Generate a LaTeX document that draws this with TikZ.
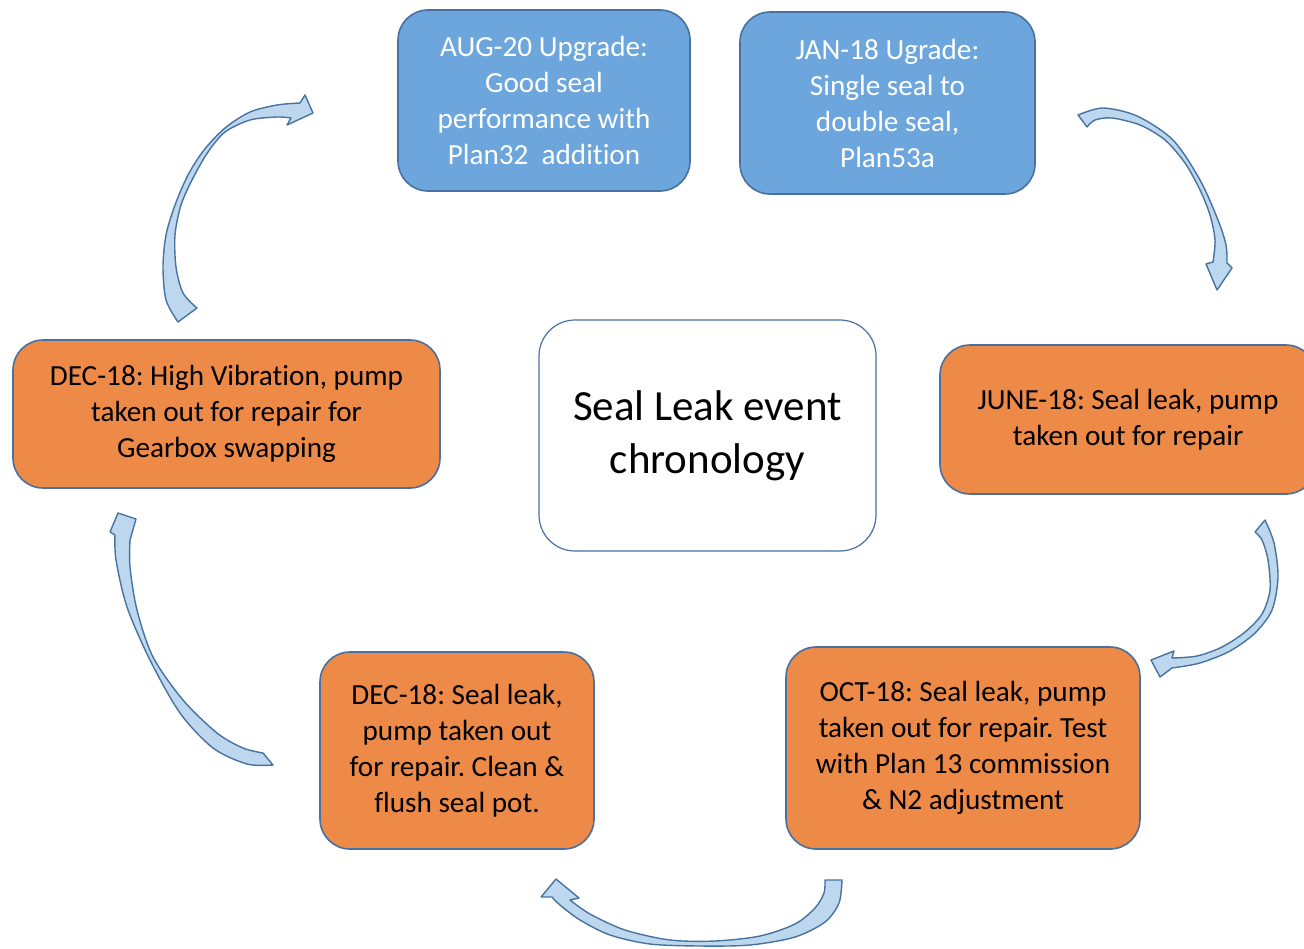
\documentclass[tikz,border=0pt]{standalone}
\usepackage{fontspec}
\setmainfont[Ligatures=NoCommon]{Carlito}
\frenchspacing

\definecolor{upgblue}{RGB}{108,166,220}
\definecolor{evtorange}{RGB}{238,138,72}
\definecolor{boxedge}{RGB}{72,112,160}
\definecolor{arrowfill}{RGB}{189,215,238}
\definecolor{arrowedge}{RGB}{70,115,160}

\tikzset{
  evtbox/.style={draw=boxedge, line width=0.8pt, rounded corners=15pt, align=center, inner sep=2pt,
    font=\fontsize{14.6}{18}\selectfont},
  upgbox/.style={evtbox, fill=upgblue, text=white},
  leakbox/.style={evtbox, fill=evtorange, text=black},
  bendarrow/.style={fill=arrowfill, draw=arrowedge, line width=0.7pt, line join=round},
}

\begin{document}
\begin{tikzpicture}[x=0.5pt,y=0.5pt,yscale=-1,xscale=1]
	\clip (0,0) rectangle (1304,948);
	% boxes
	\node[upgbox, minimum width=146pt, minimum height=90.5pt] (aug) at (544,100.5) {AUG-20 Upgrade:\\Good seal\\performance with\\Plan32~~addition};
	\node[upgbox, minimum width=147.5pt, minimum height=91pt] (jan) at (887.5,103) {JAN-18 Ugrade:\\Single seal to\\double seal,\\Plan53a};
	\node[leakbox, minimum width=188pt, minimum height=74.5pt] (june) at (1128,419.5) {JUNE-18: Seal leak, pump\\taken out for repair};
	\node[leakbox, minimum width=213.5pt, minimum height=74pt] (vib) at (226.5,414) {DEC-18: High Vibration, pump\\taken out for repair for\\Gearbox swapping};
	\node[leakbox, minimum width=177pt, minimum height=101pt] (oct) at (963,748) {OCT-18: Seal leak, pump\\taken out for repair. Test\\with Plan 13 commission\\\& N2 adjustment};
	\node[leakbox, minimum width=137pt, minimum height=98.5pt] (pot) at (457,750.5) {DEC-18: Seal leak,\\pump taken out\\for repair. Clean \&\\flush seal pot.};
	\node[draw=boxedge, line width=0.6pt, fill=white, rounded corners=18pt, align=center,
	  minimum width=168.5pt, minimum height=115.5pt, font=\fontsize{21.5}{26.5}\selectfont] (chron) at (707.5,435.5) {Seal Leak event\\chronology};
	% curved arrows
	\filldraw[bendarrow] plot[smooth] coordinates {(178,322) (166,300) (163,267) (166,235) (175,205) (188,175) (204,150) (225,128) (250,112) (277,105) (300,103)}
	  -- (305,95) -- (313,113) -- (287,125) -- plot[smooth] coordinates {(291,118) (277,117) (250,120) (225,132) (208,152) (193,178) (181,205) (175,235) (176,267) (183,293) (197,308)} -- cycle;
	\filldraw[bendarrow] plot[smooth] coordinates {(1078,115) (1103,108) (1137,116) (1173,140) (1200,180) (1218,220) (1226,245) (1227,263)}
	  -- (1232,268) -- (1217,290) -- (1206,264) -- plot[smooth] coordinates {(1213,262) (1215,240) (1210,215) (1200,190) (1185,163) (1165,140) (1140,125) (1112,118) (1095,120) (1087,127)} -- cycle;
	\filldraw[bendarrow] plot[smooth] coordinates {(1265,520) (1274,543) (1278,577) (1272,610) (1255,633) (1230,651) (1200,663) (1172,668)}
	  -- (1160,677) -- (1151,660) -- (1174,651) -- plot[smooth] coordinates {(1172,658) (1197,656) (1222,647) (1245,632) (1262,614) (1270,590) (1268,560) (1262,540) (1255,532)} -- cycle;
	\filldraw[bendarrow] plot[smooth] coordinates {(842,880) (839,903) (825,922) (795,937) (750,945) (700,946) (650,944) (610,935) (580,920) (560,905) (552,897)}
	  -- (541,897) -- (556,879) -- (579,898) -- plot[smooth] coordinates {(570,900) (590,914) (625,930) (670,940) (715,941) (760,936) (795,924) (815,908) (824,893) (825,880)} -- cycle;
	\filldraw[bendarrow] plot[smooth] coordinates {(273,765) (247,764) (213,748) (180,713) (150,660) (127,607) (116,560) (115,535)}
	  -- (110,532) -- (118,513) -- (136,519) -- plot[smooth] coordinates {(130,540) (130,567) (137,610) (153,657) (183,700) (217,733) (243,748) (263,753)} -- cycle;
\end{tikzpicture}
\end{document}
